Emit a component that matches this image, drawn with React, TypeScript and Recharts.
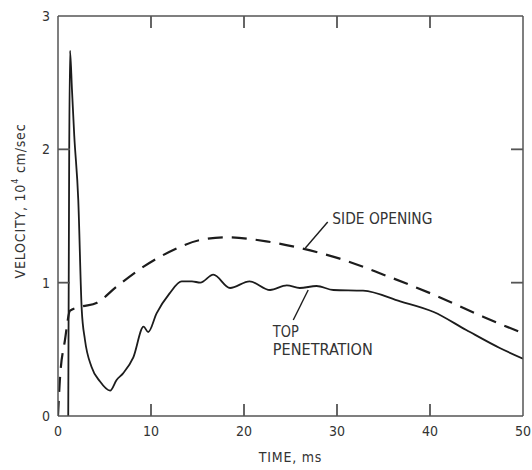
import { ComposedChart, Label, Line, ReferenceDot, ReferenceLine, Scatter, XAxis, YAxis } from 'recharts'

// Axis ticks
const TIME_TICKS = [0, 10, 20, 30, 40, 50]
const TIME_INNER_TICKS = [10, 20, 30, 40]
const VEL_TICKS = [0, 1, 2, 3]
const VEL_INNER_TICKS = [1, 2]

// "Top penetration" velocity trace (solid) — time in ms, velocity in 10^4 cm/sec
const topTime = [
  1.1, 1.2, 1.29, 1.5, 1.75, 2.18, 2.55, 2.9, 3.6, 4.5, 5.6, 6.3, 7.0, 8.1, 9.2, 9.7, 10.6, 12.0,
  13.3, 14.4, 15.3, 16.7, 18.5, 20.6, 22.8, 24.6, 26.0, 27.8, 29.6, 32.8, 36.8, 40.4, 43.9, 47.5, 50,
]
const topVel = [
  0, 1.9, 2.74, 2.45, 2.1, 1.62, 0.8, 0.57, 0.37, 0.26, 0.19, 0.27, 0.32, 0.44, 0.67, 0.63, 0.77,
  0.92, 1.01, 1.01, 1.0, 1.06, 0.96, 1.01, 0.945, 0.98, 0.96, 0.975, 0.945, 0.94, 0.86, 0.78, 0.645,
  0.51, 0.43,
]

// "Side opening" velocity trace (dashed)
const sideTime = [0, 0.2, 0.75, 1.3, 2.5, 4.2, 6.3, 9.2, 12.4, 15.3, 18.1, 22.4, 26.0, 30.3, 35.0, 40.4, 45.7, 50]
const sideVel = [0, 0.27, 0.57, 0.79, 0.82, 0.85, 0.97, 1.12, 1.245, 1.32, 1.34, 1.31, 1.26, 1.18, 1.06, 0.91, 0.745, 0.62]

const topData = topTime.map((t, i) => ({ t, v: topVel[i] }))
const sideData = sideTime.map((t, i) => ({ t, v: sideVel[i] }))

const X_MAX = 50
const Y_MAX = 3

// anchor points for the inward frame ticks (side says which way the tick points)
const frameTicks = [
  ...TIME_INNER_TICKS.map((t) => ({ t, v: 0, side: 'b' })),
  ...TIME_INNER_TICKS.map((t) => ({ t, v: Y_MAX, side: 't' })),
  ...VEL_INNER_TICKS.map((v) => ({ t: 0, v, side: 'l' })),
  ...VEL_INNER_TICKS.map((v) => ({ t: X_MAX, v, side: 'r' })),
]

const FONT = '"DejaVu Sans Condensed", "DejaVu Sans", sans-serif'
const INK = '#1c1c1c'
const TEXT = '#333'
const FRAME = '#555'
const TICK_LEN = 12

function FrameTick(props: any) {
  const { cx, cy, payload } = props
  if (cx == null || cy == null) return <g />
  const side = payload?.side
  let x2 = cx
  let y2 = cy
  if (side === 'b') y2 = cy - TICK_LEN
  if (side === 't') y2 = cy + TICK_LEN
  if (side === 'l') x2 = cx + TICK_LEN
  if (side === 'r') x2 = cx - TICK_LEN
  return <line x1={cx} y1={cy} x2={x2} y2={y2} stroke={FRAME} strokeWidth={1.8} />
}

function BottomTick({ x, y, payload }: any) {
  return (
    <text x={x} y={y + 10} dy="0.71em" textAnchor="middle" fill={TEXT} fontFamily={FONT} fontSize={14}>
      {payload.value}
    </text>
  )
}

function LeftTick({ x, y, payload }: any) {
  return (
    <text x={x - 8} y={y} dy="0.355em" textAnchor="end" fill={TEXT} fontFamily={FONT} fontSize={14}>
      {payload.value}
    </text>
  )
}

// Multi-line annotation text anchored at a data point (left end of first baseline)
function annotation(lines: string[], widths: number[]) {
  return (props: any) => {
    const vb = props.viewBox || {}
    return (
      <g>
        {lines.map((s, i) => (
          <text
            key={s}
            x={vb.x}
            y={vb.y + i * 18}
            fill={TEXT}
            fontFamily={FONT}
            fontSize={15}
            textLength={widths[i]}
            lengthAdjust="spacingAndGlyphs"
          >
            {s}
          </text>
        ))}
      </g>
    )
  }
}

function VelocityLabel(props: any) {
  const vb = props.viewBox || {}
  const cx = vb.x + 3
  const cy = 201
  return (
    <text
      x={cx}
      y={cy}
      transform={`rotate(-90, ${cx}, ${cy})`}
      textAnchor="middle"
      dominantBaseline="middle"
      fill={TEXT}
      fontFamily={FONT}
      fontSize={14}
      letterSpacing={0.8}
    >
      VELOCITY, 10
      <tspan fontSize={9} dy={-6}>4</tspan>
      <tspan dy={6}> cm/sec</tspan>
    </text>
  )
}

export default function App() {
  const frame = { stroke: FRAME, strokeWidth: 1.5 }
  return (
    <div style={{ position: 'absolute', left: 0, top: 0, background: '#fff' }}>
      <ComposedChart width={532} height={470} margin={{ top: 16, right: 9, bottom: 14, left: 18 }}>
        <XAxis
          dataKey="t"
          type="number"
          domain={[0, X_MAX]}
          ticks={TIME_TICKS}
          interval={0}
          height={40}
          tick={<BottomTick />}
          tickLine={false}
          axisLine={frame}
          tickSize={0}
          tickMargin={0}
          allowDataOverflow
        >
          <Label
            value="TIME, ms"
            position="insideBottom"
            offset={-6}
            fill={TEXT}
            fontFamily={FONT}
            fontSize={14}
            letterSpacing={0.8}
          />
        </XAxis>
        <YAxis
          type="number"
          domain={[0, Y_MAX]}
          ticks={VEL_TICKS}
          interval={0}
          width={40}
          tick={<LeftTick />}
          tickLine={false}
          axisLine={frame}
          tickSize={0}
          tickMargin={0}
          allowDataOverflow
        >
          <Label content={<VelocityLabel />} />
        </YAxis>
        {/* top and right frame edges */}
        <XAxis
          xAxisId="top"
          orientation="top"
          mirror
          dataKey="t"
          type="number"
          domain={[0, X_MAX]}
          height={30}
          tick={false}
          tickLine={false}
          axisLine={frame}
          allowDataOverflow
        />
        <YAxis
          yAxisId="right"
          orientation="right"
          mirror
          type="number"
          domain={[0, Y_MAX]}
          width={30}
          tick={false}
          tickLine={false}
          axisLine={frame}
          allowDataOverflow
        />

        {/* invisible series so the frame axes get their domains */}
        <Line
          data={sideData}
          dataKey="v"
          xAxisId="top"
          yAxisId="right"
          stroke="none"
          dot={false}
          activeDot={false}
          isAnimationActive={false}
        />

        {/* inward tick marks on all four sides */}
        <Scatter
          data={frameTicks}
          dataKey="v"
          shape={<FrameTick />}
          isAnimationActive={false}
        />

        <Line
          data={sideData}
          dataKey="v"
          type="monotone"
          stroke={INK}
          strokeWidth={2.2}
          strokeDasharray="15 9"
          dot={false}
          activeDot={false}
          isAnimationActive={false}
        />
        <Line
          data={topData}
          dataKey="v"
          type="monotone"
          stroke={INK}
          strokeWidth={1.8}
          dot={false}
          activeDot={false}
          isAnimationActive={false}
        />

        {/* leader lines */}
        <ReferenceLine
          segment={[
            { x: 29.0, y: 1.455 },
            { x: 26.6, y: 1.26 },
          ]}
          stroke={INK}
          strokeWidth={1.4}
        />
        <ReferenceLine
          segment={[
            { x: 26.9, y: 0.945 },
            { x: 25.3, y: 0.72 },
          ]}
          stroke={INK}
          strokeWidth={1.4}
        />

        <ReferenceDot x={29.5} y={1.44} r={0} fill="none" stroke="none">
          <Label content={annotation(['SIDE OPENING'], [100])} />
        </ReferenceDot>
        <ReferenceDot x={23.1} y={0.595} r={0} fill="none" stroke="none">
          <Label content={annotation(['TOP', 'PENETRATION'], [26, 100])} />
        </ReferenceDot>
      </ComposedChart>
    </div>
  )
}
